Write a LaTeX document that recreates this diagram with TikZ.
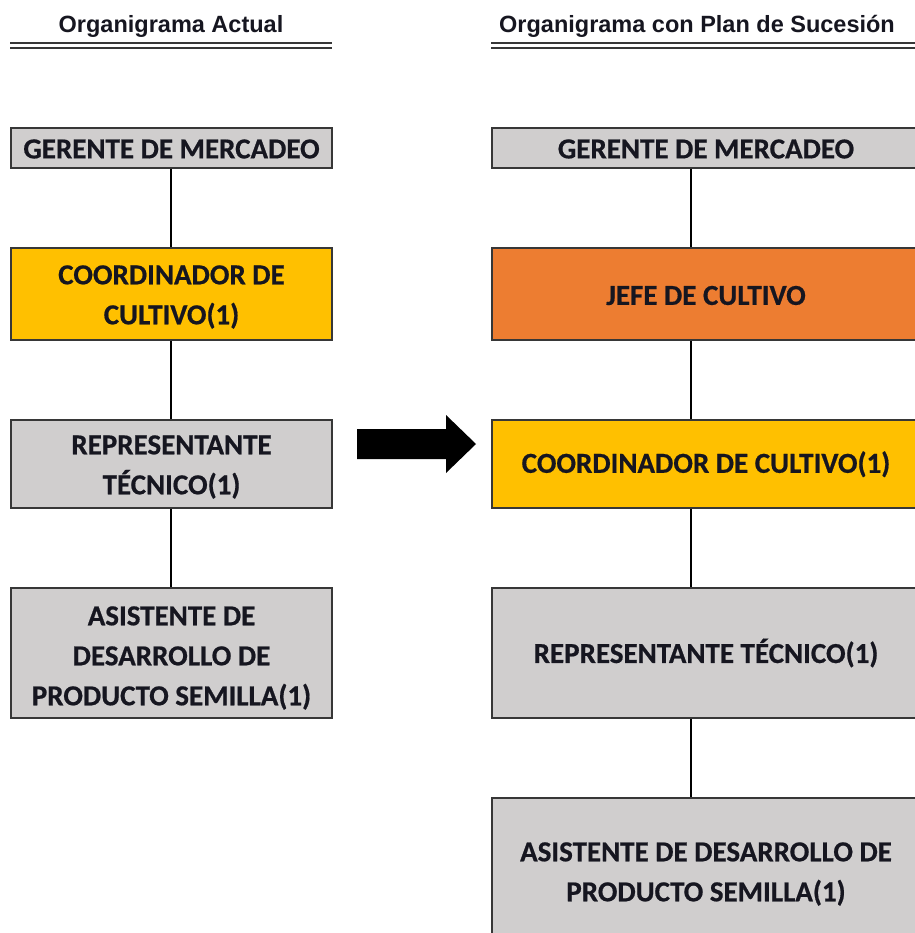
\documentclass[tikz,border=0pt]{standalone}
\usepackage{fontspec}
\newfontfamily\boxfont{Carlito}[BoldFeatures={FakeBold=0.6}]
\newfontfamily\titlefont{Liberation Sans}
\definecolor{boxgray}{RGB}{208,206,206}
\definecolor{boxorange}{RGB}{237,125,49}
\definecolor{boxyellow}{RGB}{255,192,0}
\definecolor{edgegray}{RGB}{55,55,55}
\definecolor{ink}{RGB}{22,22,32}
% a strut on the first line drops the text block a little inside its box
\newcommand\lineroom[1]{\rule{0pt}{#1}}
\begin{document}
\begin{tikzpicture}[x=1pt,y=-1pt,
  post/.style={draw=edgegray, line width=1.5pt, inner sep=0pt, align=center,
    text=ink, font=\boxfont\bfseries\fontsize{29}{40}\selectfont},
  leftpost/.style={post, minimum width=321pt},
  rightpost/.style={post, minimum width=458pt},
  heading/.style={anchor=base, text=ink, inner sep=0pt,
    font=\titlefont\bfseries\fontsize{23.5}{28}\selectfont},
  rule/.style={draw=edgegray, line width=2pt},
  link/.style={draw=black, line width=1.4pt}]
\useasboundingbox (0,0) rectangle (914,933);
\fill[white] (-10,-10) rectangle (940,950);
\clip (-10,-10) rectangle (940,950);

% headings with double rules
\node[heading] (t1) at (171,33) {Organigrama Actual};
\node[heading] (t2) at (697,33) {Organigrama con Plan de Sucesión};
\draw[rule] (10,43.5) -- (332,43.5);
\draw[rule] (10,48.5) -- (332,48.5);
\draw[rule] (491,43.5) -- (916,43.5);
\draw[rule] (491,48.5) -- (916,48.5);

% current chart
\node[leftpost, fill=boxgray,   minimum height=40pt]  (lg) at (171.5,148) {\lineroom{21pt}GERENTE DE MERCADEO};
\node[leftpost, fill=boxyellow, minimum height=92pt]  (lc) at (171.5,294) {\lineroom{25pt}COORDINADOR DE\\CULTIVO(1)};
\node[leftpost, fill=boxgray,   minimum height=88pt]  (lr) at (171.5,464) {\lineroom{25pt}REPRESENTANTE\\TÉCNICO(1)};
\node[leftpost, fill=boxgray,   minimum height=130pt] (la) at (171.5,653) {\lineroom{29pt}ASISTENTE DE\\DESARROLLO DE\\PRODUCTO SEMILLA(1)};

% succession chart: boxes run past the right edge, so the text sits left of centre
\node[rightpost, fill=boxgray,   minimum height=40pt]  (rg) at (721,148) {\lineroom{21pt}\hspace*{-30pt}GERENTE DE MERCADEO};
\node[rightpost, fill=boxorange, minimum height=92pt]  (rj) at (721,294) {\lineroom{22pt}\hspace*{-30pt}JEFE DE CULTIVO};
\node[rightpost, fill=boxyellow, minimum height=88pt]  (rc) at (721,464) {\lineroom{22pt}\hspace*{-30pt}COORDINADOR DE CULTIVO(1)};
\node[rightpost, fill=boxgray,   minimum height=130pt] (rr) at (721,653) {\lineroom{22pt}\hspace*{-30pt}REPRESENTANTE TÉCNICO(1)};
\node[rightpost, fill=boxgray,   minimum height=148pt] (ra) at (721,872) {\lineroom{23pt}\hspace*{-30pt}ASISTENTE DE DESARROLLO DE\\\hspace*{-30pt}PRODUCTO SEMILLA(1)};

% reporting lines
\coordinate (lx) at (171,0);
\coordinate (rx) at (691,0);
\draw[link] (lg.south -| lx) -- (lc.north -| lx);
\draw[link] (lc.south -| lx) -- (lr.north -| lx);
\draw[link] (lr.south -| lx) -- (la.north -| lx);
\draw[link] (rg.south -| rx) -- (rj.north -| rx);
\draw[link] (rj.south -| rx) -- (rc.north -| rx);
\draw[link] (rc.south -| rx) -- (rr.north -| rx);
\draw[link] (rr.south -| rx) -- (ra.north -| rx);

% transition arrow
\fill[black] (357,429) -- (446,429) -- (446,415) -- (476,444) -- (446,473)
  -- (446,459) -- (357,459) -- cycle;
\end{tikzpicture}
\end{document}
